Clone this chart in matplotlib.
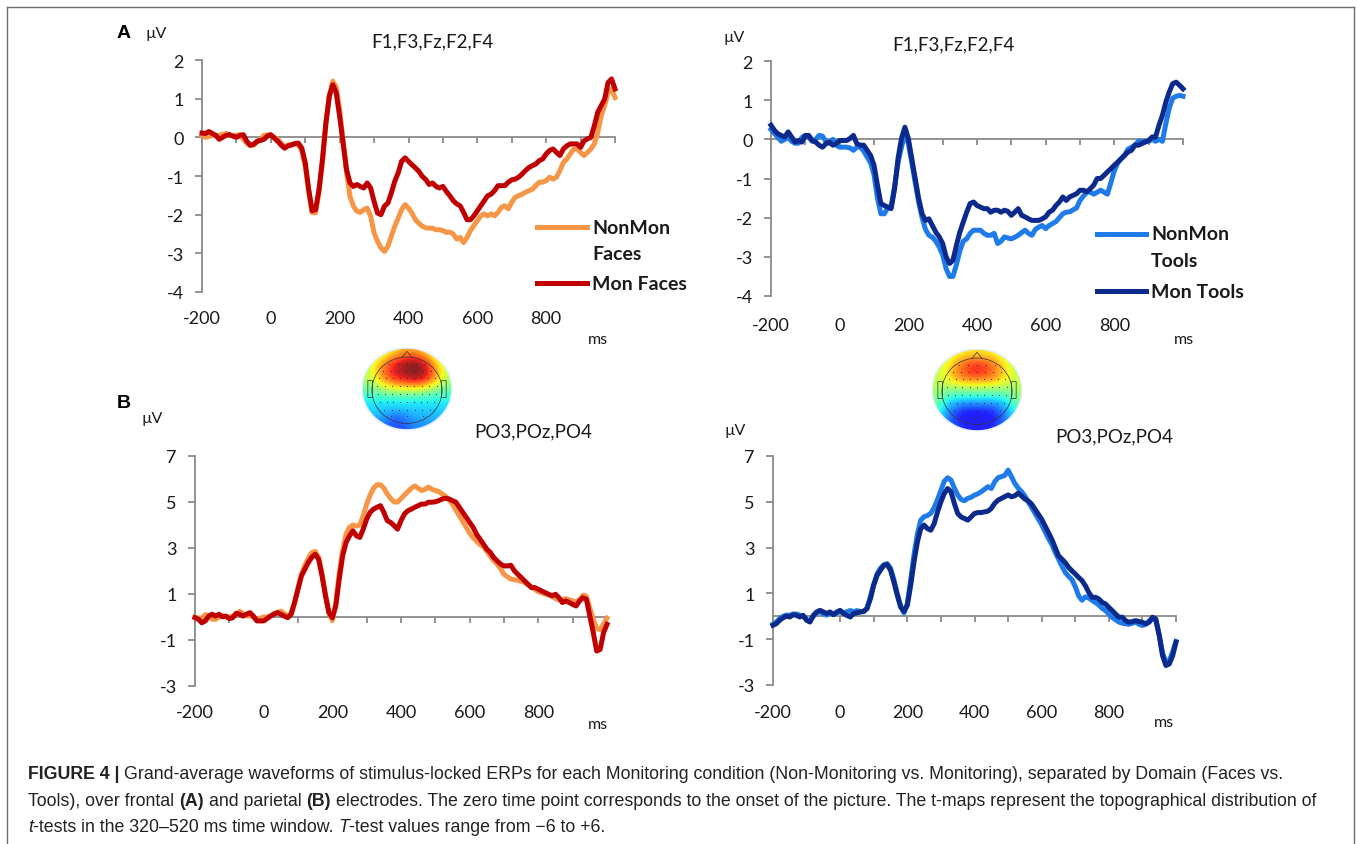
import numpy as np
import matplotlib
matplotlib.use('Agg')
import matplotlib.pyplot as plt
from matplotlib import font_manager
from matplotlib.lines import Line2D
from matplotlib.patches import Ellipse, Polygon, FancyBboxPatch

# ............................................................ data
times = np.arange(-200, 1001, 10)
xlabels = [-200, 0, 200, 400, 600, 800]
yticks_front = [2, 1, 0, -1, -2, -3, -4]
yticks_par = [7, 5, 3, 1, -1, -3]

# frontal, faces
fr_faces_non = [
    0.05, 0.00, 0.02, 0.05, 0.05, 0.05, 0.08, 0.10, 0.05, 0.05,
    0.05, 0.07, -0.05, -0.15, -0.22, -0.20, -0.12, -0.05, 0.05, 0.07,
    0.05, 0.00, -0.05, -0.15, -0.25, -0.20, -0.18, -0.17, -0.20, -0.35,
    -0.75, -1.40, -1.95, -1.95, -1.40, -0.60, 0.35, 1.10, 1.45, 1.30,
    0.70, -0.10, -0.90, -1.53, -1.78, -1.91, -1.94, -1.87, -1.83, -2.04,
    -2.47, -2.69, -2.86, -2.95, -2.82, -2.56, -2.30, -2.09, -1.87, -1.74,
    -1.83, -1.96, -2.13, -2.22, -2.30, -2.34, -2.35, -2.35, -2.39, -2.39,
    -2.41, -2.46, -2.45, -2.50, -2.63, -2.59, -2.72, -2.59, -2.41, -2.28,
    -2.16, -2.03, -1.98, -2.03, -1.98, -2.03, -1.94, -1.81, -1.77, -1.85,
    -1.68, -1.55, -1.51, -1.47, -1.42, -1.38, -1.34, -1.25, -1.16, -1.16,
    -1.12, -1.03, -1.08, -1.03, -0.86, -0.65, -0.56, -0.43, -0.30, -0.30,
    -0.39, -0.47, -0.39, -0.30, -0.17, 0.13, 0.56, 0.82, 1.16, 1.25,
    1.03]
fr_faces_mon = [
    0.11, 0.10, 0.15, 0.10, 0.05, -0.05, 0.00, 0.05, 0.07, 0.03,
    0.00, 0.05, 0.07, -0.10, -0.20, -0.18, -0.10, -0.08, -0.05, 0.03,
    0.07, -0.02, -0.10, -0.20, -0.28, -0.22, -0.20, -0.16, -0.15, -0.28,
    -0.66, -1.35, -1.90, -1.87, -1.35, -0.58, 0.37, 1.06, 1.36, 1.15,
    0.54, -0.15, -0.84, -1.18, -1.27, -1.22, -1.27, -1.31, -1.18, -1.31,
    -1.66, -1.96, -2.00, -1.78, -1.70, -1.44, -1.14, -0.92, -0.62, -0.53,
    -0.62, -0.71, -0.79, -0.88, -1.01, -1.09, -1.22, -1.18, -1.27, -1.31,
    -1.27, -1.40, -1.51, -1.64, -1.72, -1.77, -1.94, -2.13, -2.13, -2.03,
    -1.90, -1.77, -1.64, -1.51, -1.47, -1.38, -1.25, -1.25, -1.25, -1.16,
    -1.10, -1.08, -1.03, -0.95, -0.86, -0.78, -0.73, -0.69, -0.60, -0.56,
    -0.43, -0.34, -0.30, -0.39, -0.47, -0.30, -0.22, -0.17, -0.17, -0.17,
    -0.26, -0.09, -0.04, 0.00, 0.30, 0.65, 0.82, 0.99, 1.42, 1.51,
    1.25]

# frontal, tools
fr_tools_non = [
    0.25, 0.15, 0.05, -0.05, 0.00, 0.05, -0.05, -0.10, -0.10, 0.05,
    0.10, 0.05, -0.05, 0.00, 0.10, 0.08, -0.05, -0.10, 0.00, -0.15,
    -0.20, -0.20, -0.20, -0.22, -0.28, -0.20, -0.20, -0.30, -0.45, -0.60,
    -0.90, -1.50, -1.90, -1.90, -1.75, -1.70, -1.20, -0.60, -0.20, 0.15,
    -0.10, -0.60, -1.10, -1.60, -2.00, -2.30, -2.45, -2.50, -2.60, -2.75,
    -2.95, -3.30, -3.50, -3.50, -3.20, -2.85, -2.60, -2.54, -2.40, -2.32,
    -2.32, -2.32, -2.40, -2.45, -2.45, -2.40, -2.66, -2.60, -2.49, -2.52,
    -2.54, -2.50, -2.45, -2.38, -2.32, -2.40, -2.45, -2.30, -2.24, -2.20,
    -2.28, -2.20, -2.15, -2.10, -2.00, -1.90, -1.86, -1.85, -1.80, -1.75,
    -1.56, -1.45, -1.35, -1.35, -1.40, -1.35, -1.30, -1.35, -1.40, -1.10,
    -0.80, -0.60, -0.50, -0.40, -0.25, -0.20, -0.15, -0.05, -0.05, -0.05,
    -0.05, 0.00, -0.05, 0.00, -0.05, 0.40, 0.80, 1.05, 1.10, 1.12,
    1.10]
fr_tools_mon = [
    0.36, 0.23, 0.14, 0.10, 0.06, 0.19, 0.06, -0.07, -0.03, -0.07,
    0.10, 0.10, -0.03, -0.07, -0.15, -0.20, -0.11, -0.07, -0.15, -0.11,
    -0.03, -0.03, -0.03, 0.02, 0.10, -0.11, -0.15, -0.15, -0.28, -0.41,
    -0.66, -1.17, -1.64, -1.69, -1.73, -1.77, -1.26, -0.49, 0.02, 0.31,
    0.02, -0.49, -1.00, -1.51, -1.90, -2.07, -2.03, -2.20, -2.37, -2.49,
    -2.66, -3.00, -3.17, -3.09, -2.71, -2.37, -2.11, -1.86, -1.64, -1.60,
    -1.69, -1.73, -1.77, -1.77, -1.86, -1.81, -1.81, -1.86, -1.81, -1.84,
    -1.94, -1.86, -1.77, -1.94, -1.98, -2.03, -2.07, -2.07, -2.07, -2.03,
    -1.98, -1.86, -1.81, -1.69, -1.60, -1.47, -1.56, -1.47, -1.43, -1.39,
    -1.30, -1.30, -1.34, -1.26, -1.17, -1.00, -1.00, -0.92, -0.83, -0.75,
    -0.66, -0.58, -0.49, -0.41, -0.32, -0.28, -0.15, -0.15, -0.11, -0.07,
    -0.03, 0.06, 0.06, 0.36, 0.61, 0.95, 1.21, 1.42, 1.46, 1.38,
    1.29]

# parietal, faces
par_faces_non = [
    0.00, -0.05, -0.05, 0.10, 0.05, -0.10, -0.10, 0.00, 0.05, 0.00,
    0.00, 0.05, 0.10, 0.25, 0.15, 0.05, 0.05, 0.00, -0.10, -0.05,
    0.00, 0.00, 0.05, 0.15, 0.20, 0.25, 0.15, 0.05, 0.15, 0.60,
    1.25, 1.85, 2.25, 2.55, 2.80, 2.85, 2.60, 1.90, 1.00, 0.20,
    -0.15, 0.60, 1.90, 2.90, 3.60, 3.90, 4.00, 3.95, 4.00, 4.40,
    4.90, 5.30, 5.60, 5.75, 5.75, 5.60, 5.35, 5.15, 5.00, 5.00,
    5.15, 5.30, 5.45, 5.60, 5.70, 5.60, 5.50, 5.55, 5.65, 5.55,
    5.50, 5.45, 5.35, 5.25, 5.10, 4.90, 4.65, 4.40, 4.15, 3.90,
    3.65, 3.45, 3.30, 3.15, 3.05, 2.85, 2.65, 2.45, 2.30, 2.10,
    1.85, 1.75, 1.65, 1.62, 1.60, 1.55, 1.50, 1.40, 1.30, 1.20,
    1.10, 1.05, 1.00, 0.95, 0.90, 0.80, 0.75, 0.75, 0.80, 0.75,
    0.70, 0.65, 0.75, 0.95, 0.90, 0.40, -0.10, -0.50, -0.55, -0.30,
    -0.05]
par_faces_mon = [
    -0.03, -0.10, -0.25, -0.17, 0.04, 0.12, 0.04, 0.12, 0.01, 0.04,
    -0.07, -0.03, 0.16, 0.12, 0.04, 0.12, 0.19, 0.04, -0.17, -0.17,
    -0.17, -0.07, 0.04, 0.12, 0.19, 0.12, 0.04, -0.03, 0.12, 0.63,
    1.21, 1.79, 2.08, 2.37, 2.59, 2.73, 2.51, 1.79, 0.92, 0.19,
    -0.03, 0.48, 1.64, 2.66, 3.24, 3.53, 3.75, 3.53, 3.46, 3.82,
    4.26, 4.55, 4.69, 4.77, 4.84, 4.55, 4.19, 4.11, 3.97, 3.82,
    4.19, 4.48, 4.62, 4.69, 4.77, 4.84, 4.91, 4.91, 4.99, 4.99,
    5.01, 5.06, 5.13, 5.16, 5.13, 5.06, 4.99, 4.77, 4.55, 4.33,
    4.11, 3.90, 3.60, 3.39, 3.17, 2.95, 2.81, 2.59, 2.44, 2.30,
    2.22, 2.22, 2.25, 2.01, 1.86, 1.72, 1.57, 1.42, 1.28, 1.28,
    1.21, 1.13, 1.06, 0.99, 0.92, 0.99, 0.84, 0.63, 0.70, 0.63,
    0.55, 0.48, 0.70, 0.84, 0.77, 0.04, -0.68, -1.48, -1.41, -0.68,
    -0.32]

# parietal, tools
par_tools_non = [
    -0.35, -0.25, -0.10, 0.00, 0.05, 0.05, 0.10, 0.10, 0.05, 0.00,
    -0.15, -0.20, 0.00, 0.15, 0.20, 0.10, 0.05, 0.15, 0.10, 0.15,
    0.20, 0.15, 0.20, 0.25, 0.20, 0.25, 0.20, 0.20, 0.35, 0.85,
    1.40, 1.85, 2.10, 2.25, 2.30, 2.10, 1.60, 1.00, 0.45, 0.15,
    0.55, 1.60, 2.70, 3.60, 4.20, 4.35, 4.40, 4.50, 4.75, 5.10,
    5.50, 5.90, 6.05, 5.95, 5.60, 5.30, 5.10, 5.05, 5.15, 5.20,
    5.29, 5.35, 5.44, 5.55, 5.66, 5.58, 5.87, 6.05, 6.10, 6.15,
    6.38, 6.10, 5.80, 5.60, 5.45, 5.25, 5.00, 4.75, 4.50, 4.25,
    4.00, 3.70, 3.40, 3.15, 2.80, 2.50, 2.20, 1.92, 1.75, 1.60,
    1.30, 0.90, 0.70, 0.85, 0.80, 0.70, 0.60, 0.50, 0.35, 0.25,
    0.10, -0.05, -0.15, -0.25, -0.30, -0.33, -0.35, -0.30, -0.25, -0.35,
    -0.40, -0.35, -0.20, -0.10, -0.20, -0.80, -1.60, -2.00, -1.95, -1.55,
    -1.10]
par_tools_mon = [
    -0.39, -0.32, -0.17, -0.07, 0.01, -0.03, 0.07, 0.04, -0.03, 0.04,
    -0.17, -0.25, 0.04, 0.19, 0.26, 0.19, 0.12, 0.19, 0.07, 0.19,
    0.26, 0.12, 0.04, -0.03, 0.12, 0.15, 0.19, 0.22, 0.34, 0.77,
    1.36, 1.79, 2.01, 2.23, 2.26, 2.01, 1.50, 0.92, 0.41, 0.22,
    0.48, 1.36, 2.38, 3.25, 3.83, 3.98, 3.83, 3.76, 4.05, 4.56,
    5.00, 5.36, 5.58, 5.44, 4.93, 4.49, 4.34, 4.27, 4.20, 4.34,
    4.49, 4.53, 4.53, 4.56, 4.59, 4.71, 4.93, 5.07, 5.15, 5.22,
    5.30, 5.22, 5.26, 5.38, 5.26, 5.12, 5.04, 4.90, 4.68, 4.46,
    4.24, 3.95, 3.66, 3.37, 3.01, 2.65, 2.50, 2.35, 2.14, 1.99,
    1.85, 1.70, 1.56, 1.34, 1.05, 0.83, 0.83, 0.76, 0.61, 0.54,
    0.39, 0.25, 0.10, -0.04, -0.04, -0.19, -0.26, -0.23, -0.19, -0.23,
    -0.26, -0.33, -0.26, -0.04, -0.12, -0.84, -1.72, -2.15, -2.08, -1.72,
    -1.13]

# t-maps (front row first), t values -6..+6
tmap_faces = [
    [0.0, 0.5, 1.5, 2.5, 3.0, 3.0, 2.0, 0.5, 0.0],
    [0.5, 2.0, 3.5, 5.0, 5.8, 6.0, 4.5, 2.0, 0.5],
    [1.0, 2.5, 4.5, 5.5, 6.0, 6.5, 5.5, 3.0, 1.0],
    [0.5, 2.0, 3.5, 4.5, 5.0, 5.5, 4.5, 2.5, 0.5],
    [-0.5, 0.0, 1.0, 1.5, 1.5, 1.5, 1.0, 0.0, -0.5],
    [-1.5, -1.5, -1.5, -1.5, -1.5, -1.5, -1.5, -1.5, -1.5],
    [-2.0, -2.0, -2.0, -2.0, -2.0, -2.0, -2.0, -2.0, -2.0],
    [-2.0, -2.5, -3.0, -3.5, -3.0, -2.5, -2.5, -2.5, -2.0],
    [-2.5, -3.0, -3.5, -4.0, -3.5, -3.0, -3.0, -2.5, -2.5]]
tmap_tools = [
    [0.5, 1.0, 1.5, 2.0, 2.0, 2.0, 1.5, 1.0, 0.5],
    [1.0, 1.5, 3.0, 4.0, 4.5, 4.0, 3.0, 1.5, 1.0],
    [1.0, 2.0, 3.5, 4.5, 5.0, 4.5, 3.5, 2.0, 1.0],
    [1.0, 1.5, 2.5, 3.0, 3.0, 3.0, 2.5, 1.5, 1.0],
    [0.5, 0.0, 0.0, 0.0, 0.0, 0.0, 0.0, 0.0, 0.5],
    [0.0, -1.5, -2.0, -2.0, -2.0, -2.0, -2.0, -1.5, 0.0],
    [-1.0, -2.5, -3.5, -4.0, -4.0, -4.0, -3.5, -2.5, -1.0],
    [-1.5, -3.0, -4.5, -5.0, -5.2, -5.0, -4.5, -3.0, -1.5],
    [-2.0, -3.0, -4.0, -4.5, -4.5, -4.5, -4.0, -3.0, -2.0]]
# electrode rows: (height on head, number of electrodes)
elec_rows = [(0.62, 5), (0.45, 7), (0.28, 9), (0.08, 9), (-0.12, 9),
             (-0.32, 9), (-0.50, 7), (-0.66, 3)]

for s in (fr_faces_non, fr_faces_mon, fr_tools_non, fr_tools_mon,
          par_faces_non, par_faces_mon, par_tools_non, par_tools_mon):
    assert len(s) == len(times)

# ........................................................... setup
W, H = 1357, 845
names = {f.name for f in font_manager.fontManager.ttflist}
plt.rcParams['font.family'] = ['Lato', 'DejaVu Sans'] if 'Lato' in names else ['DejaVu Sans']
CAP = 'Liberation Sans'
GRAY = '#8a8a8a'
TXT = '#1a1a1a'
ORANGE, RED = '#F79646', '#C00000'
LBLUE, DBLUE = '#1F7BEA', '#0B2A8C'
TICK_FS = 13

fig = plt.figure(figsize=(W / 100, H / 100), dpi=100)


def fx(px):
    return px / W


def fy(py):
    return 1 - py / H


def panel(l, t, r, b, ylim, yticks, s_non, s_mon, c_non, c_mon, lab_pad):
    ax = fig.add_axes([fx(l), fy(b), (r - l) / W, (b - t) / H])
    ax.patch.set_alpha(0)
    ax.plot(times, s_non, color=c_non, lw=3.6, zorder=3, clip_on=False)
    ax.plot(times, s_mon, color=c_mon, lw=3.6, zorder=4, clip_on=False)
    ax.set_xlim(-200, 1000)
    ax.set_ylim(*ylim)
    for s in ('top', 'right'):
        ax.spines[s].set_visible(False)
    ax.spines['bottom'].set_position(('data', 0))
    for s in ('left', 'bottom'):
        ax.spines[s].set_color(GRAY)
        ax.spines[s].set_linewidth(1.3)
    ax.set_xticks(range(-200, 1001, 100))
    ax.set_xticklabels([])
    ax.tick_params(axis='x', length=4, width=1.3, color=GRAY, direction='out')
    ax.set_yticks(yticks)
    ax.set_yticklabels([str(v) for v in yticks])
    ax.tick_params(axis='y', length=5, width=1.3, color=GRAY, pad=8,
                   labelsize=TICK_FS, labelcolor=TXT)
    sec = ax.secondary_xaxis('bottom')
    sec.set_xticks(xlabels)
    sec.set_xticklabels([str(v) for v in xlabels])
    sec.spines['bottom'].set_visible(False)
    sec.tick_params(length=0, pad=lab_pad, labelsize=TICK_FS, labelcolor=TXT)
    return ax


def legend(x0, x1, xt, y_non, y_sub, y_mon, c_non, c_mon, sub, mon_lab):
    for y, c in ((y_non, c_non), (y_mon, c_mon)):
        fig.add_artist(Line2D([fx(x0), fx(x1)], [fy(y), fy(y)], color=c, lw=3.6))
    kw = dict(fontsize=14, weight='bold', color=TXT, va='center', ha='left')
    fig.text(fx(xt), fy(y_non), 'NonMon', **kw)
    fig.text(fx(xt), fy(y_sub), sub, **kw)
    fig.text(fx(xt), fy(y_mon), mon_lab, **kw)


def topo(cx, cy, rx, ry, grid):
    ax = fig.add_axes([fx(cx - rx), fy(cy + ry), 2 * rx / W, 2 * ry / H])
    ax.set_xlim(-1, 1)
    ax.set_ylim(-1, 1)
    ax.axis('off')
    im = ax.imshow(np.array(grid), cmap='jet', vmin=-6, vmax=6,
                   extent=(-1, 1, -1, 1), interpolation='bicubic',
                   aspect='auto', alpha=0.88)
    disk = Ellipse((0, 0), 2, 2, transform=ax.transData)
    im.set_clip_path(disk)
    ax.add_patch(Ellipse((0, 0), 2, 2, fill=False, ec='#e6eef8', lw=1.2))
    ax.add_patch(Ellipse((0, -0.03), 1.56, 1.62, fill=False, ec='#333333', lw=0.5))
    ax.add_patch(Polygon([(-0.12, 0.76), (0, 0.92), (0.12, 0.76)], closed=False,
                         fill=False, ec='#333333', lw=0.5))
    for sx in (-1, 1):
        ax.add_patch(FancyBboxPatch((sx * 0.82 - 0.04, -0.2), 0.08, 0.4,
                                    boxstyle='round,pad=0.01', fill=False,
                                    ec='#333333', lw=0.5))
    for y, n in elec_rows:
        half = 0.85 * np.sqrt(max(0.78 ** 2 - y ** 2, 0.0))
        xs = np.linspace(-half, half, n)
        ax.scatter(xs, np.full(n, y), s=0.6, c='#222222', lw=0)


# ........................................................... panels
panel(202, 61, 615, 293, (-4, 2), yticks_front, fr_faces_non, fr_faces_mon,
      ORANGE, RED, 13)
panel(771, 62, 1183, 297, (-4, 2), yticks_front, fr_tools_non, fr_tools_mon,
      LBLUE, DBLUE, 15)
panel(195, 457, 607, 687, (-3, 7), yticks_par, par_faces_non, par_faces_mon,
      ORANGE, RED, 13)
panel(773, 457, 1176, 686, (-3, 7), yticks_par, par_tools_non, par_tools_mon,
      LBLUE, DBLUE, 14)

legend(537, 587, 592, 228, 255, 284, ORANGE, RED, 'Faces', 'Mon Faces')
legend(1097, 1146, 1151, 235, 262, 292, LBLUE, DBLUE, 'Tools', 'Mon Tools')

topo(407, 390, 45, 41, tmap_faces)
topo(977, 391, 45, 41, tmap_tools)

tkw = dict(fontsize=13.5, color=TXT, ha='center', va='center')
fig.text(fx(432), fy(42), 'F1,F3,Fz,F2,F4', **tkw)
fig.text(fx(953), fy(45), 'F1,F3,Fz,F2,F4', **tkw)
fig.text(fx(533), fy(432), 'PO3,POz,PO4', **tkw)
fig.text(fx(1114), fy(437), 'PO3,POz,PO4', **tkw)

ukw = dict(fontsize=11.5, color=TXT, ha='center', va='center')
for x, y in ((156, 34), (734, 38), (152, 419), (735, 431)):
    fig.text(fx(x), fy(y), 'µV', **ukw)
for x, y in ((598, 340), (1184, 340), (598, 725), (1164, 723)):
    fig.text(fx(x), fy(y), 'ms', **ukw)

fig.text(fx(124), fy(33), 'A', family=CAP, weight='bold', fontsize=14,
         color='#000000', ha='center', va='center')
fig.text(fx(124), fy(403), 'B', family=CAP, weight='bold', fontsize=14,
         color='#000000', ha='center', va='center')

# ........................................................... frame
for xs, ys in (([7, 7], [8, 845]), ([7, 1354], [8, 8]), ([1354, 1354], [8, 845])):
    fig.add_artist(Line2D([fx(v) for v in xs], [fy(v) for v in ys],
                          color='#6e6e6e', lw=1.0))

# ........................................................... caption
renderer = fig.canvas.get_renderer()


def text_w(s, size, weight='normal', style='normal'):
    t = fig.text(0, 0, s, fontsize=size, family=CAP, weight=weight, style=style)
    w = t.get_window_extent(renderer).width
    t.remove()
    return w


line1 = [('FIGURE 4 | ', 'bold', 'normal'),
         ('Grand-average waveforms of stimulus-locked ERPs for each Monitoring '
          'condition (Non-Monitoring vs. Monitoring), separated by Domain (Faces vs.',
          'normal', 'normal')]
line2 = [('Tools), over frontal ', 'normal', 'normal'), ('(A)', 'bold', 'normal'),
         (' and parietal ', 'normal', 'normal'), ('(B)', 'bold', 'normal'),
         (' electrodes. The zero time point corresponds to the onset of the picture. '
          'The t-maps represent the topographical distribution of', 'normal', 'normal')]
line3 = [('t', 'normal', 'italic'),
         ('-tests in the 320\u2013520 ms time window. ', 'normal', 'normal'),
         ('T', 'normal', 'italic'),
         ('-test values range from \u22126 to +6.', 'normal', 'normal')]

ref = 10.0
w_line1 = sum(text_w(s.strip(), ref, wt, st) for s, wt, st in line1)
cap_size = ref * 1255 / w_line1
space_w = text_w('x x', cap_size) - text_w('xx', cap_size)


def rich_line(x, y, runs):
    for s, wt, st in runs:
        if s.startswith(' '):
            x += space_w
        core = s.strip()
        fig.text(fx(x), fy(y), core, fontsize=cap_size, family=CAP, weight=wt,
                 style=st, color='#222222', ha='left', va='baseline')
        x += text_w(core, cap_size, wt, st)
        if s.endswith(' '):
            x += space_w


rich_line(28, 779, line1)
rich_line(28, 806, line2)
rich_line(28, 832, line3)

fig.savefig('out.png', dpi=100)
